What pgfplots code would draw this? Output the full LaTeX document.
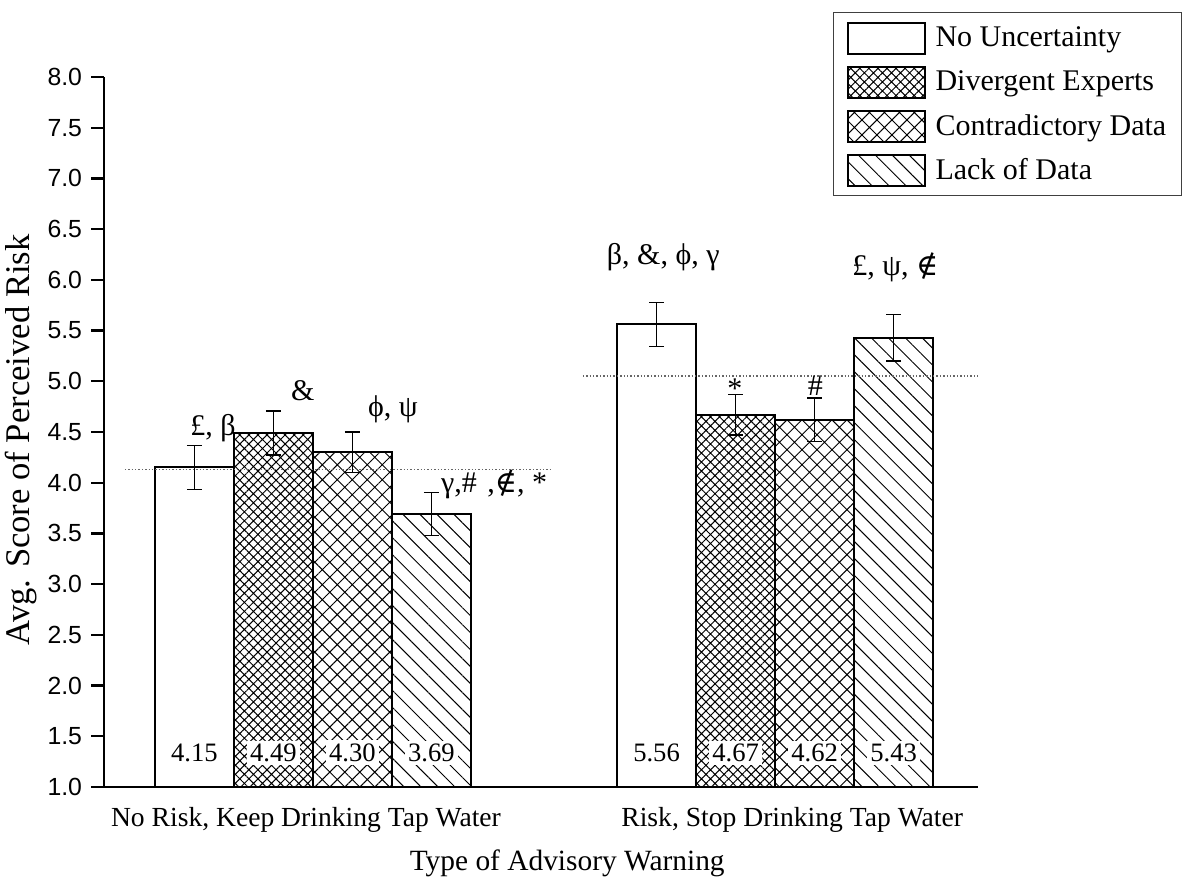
\documentclass[border=0pt]{standalone}
\usepackage{fontspec}
\setmainfont{Liberation Serif}
\newfontfamily\sansf{Liberation Sans}
\newfontfamily\symf{DejaVu Serif}
\usepackage{pgfplots}
\pgfplotsset{compat=1.18}
\usetikzlibrary{patterns.meta}

\pgfplotsset{
  mybar/.style={ybar, bar width=0.171, bar shift=0, draw=black, line width=1pt,
    error bars/y dir=both, error bars/y explicit,
    error bars/error bar style={line width=0.6pt, black},
    error bars/error mark options={rotate=90, mark size=3.75pt, line width=0.6pt, black},
    legend image code/.code={\draw[line width=1pt,##1] (0pt,-7.75pt) rectangle (38.5pt,7.75pt); \path (42.5pt,0pt);}},
}

\begin{document}
\begin{tikzpicture}
\useasboundingbox (0,0) rectangle (591.5pt,446pt);
\begin{axis}[
  at={(52pt,52.5pt)}, anchor=south west,
  scale only axis, width=437pt, height=355pt,
  xmin=-0.452, xmax=1.439, ymin=1, ymax=8,
  axis x line*=bottom, axis y line*=left,
  axis line style={line width=1.3pt},
  xtick={-0.015,1.037},
  xticklabels={{No Risk, Keep Drinking Tap Water},{Risk, Stop Drinking Tap Water}},
  xtick style={draw=none},
  xticklabel style={anchor=base, yshift=-20pt, font=\fontsize{13.8pt}{16pt}\selectfont},
  ytick={1,1.5,2,2.5,3,3.5,4,4.5,5,5.5,6,6.5,7,7.5,8},
  ytick align=outside, major tick length=6.3pt,
  ytick style={line width=1.2pt, black},
  yticklabel style={/pgf/number format/.cd, fixed, fixed zerofill, precision=1, assume math mode=true, /tikz/.cd,
    font=\sansf\fontsize{12.4pt}{14pt}\selectfont, anchor=east, inner sep=0pt, xshift=-4.5pt},
  ylabel={Avg. Score of Perceived Risk},
  ylabel style={at={(axis description cs:-0.095,0.489)}, anchor=center, rotate=0, font=\fontsize{17.3pt}{20pt}\selectfont},
  xlabel={Type of Advisory Warning},
  xlabel style={at={(axis description cs:0.53,-0.108)}, anchor=center, font=\fontsize{14.7pt}{17pt}\selectfont},
  legend style={at={(axis description cs:0.834,1.0915)}, anchor=north west,
    draw=black!75, line width=0.6pt, font=\fontsize{15pt}{17pt}\selectfont,
    inner xsep=6.5pt, inner ysep=4.5pt, row sep=5.5pt, cells={anchor=west},
    nodes={inner xsep=1pt}},
  legend cell align=left,
]
\addplot[mybar, fill=white] coordinates {(-0.2565,4.15) +- (0,0.215) (0.7435,5.56) +- (0,0.22)};
\addlegendentry{No Uncertainty}
\addplot[mybar, pattern={Hatch[angle=45,distance=3.2pt,line width=0.5pt]}] coordinates {(-0.0855,4.49) +- (0,0.217) (0.9145,4.67) +- (0,0.2)};
\addlegendentry{Divergent Experts}
\addplot[mybar, pattern={Hatch[angle=45,distance=5.3pt,line width=0.5pt]}] coordinates {(0.0855,4.30) +- (0,0.2) (1.0855,4.62) +- (0,0.215)};
\addlegendentry{Contradictory Data}
\addplot[mybar, pattern={Lines[angle=-45,distance=6pt,line width=0.5pt]}] coordinates {(0.2565,3.69) +- (0,0.21) (1.2565,5.43) +- (0,0.23)};
\addlegendentry{Lack of Data}

\addplot[forget plot, black!60, densely dotted, line width=0.7pt] coordinates {(-0.407,4.133) (0.515,4.133)};
\addplot[forget plot, black!60, densely dotted, line width=0.7pt] coordinates {(0.584,5.053) (1.439,5.053)};

\begin{scope}[every node/.style={fill=white, inner sep=1.5pt, font=\fontsize{13.3pt}{15pt}\selectfont}]
\node at (axis cs:-0.2565,1.34) {4.15};
\node at (axis cs:-0.0855,1.34) {4.49};
\node at (axis cs:0.0855,1.34) {4.30};
\node at (axis cs:0.2565,1.34) {3.69};
\node at (axis cs:0.7435,1.34) {5.56};
\node at (axis cs:0.9145,1.34) {4.67};
\node at (axis cs:1.0855,1.34) {4.62};
\node at (axis cs:1.2565,1.34) {5.43};
\end{scope}

\begin{scope}[every node/.style={inner sep=0pt, font=\fontsize{15pt}{17pt}\selectfont}]
\node at (axis cs:-0.216,4.54) {£, β};
\node at (axis cs:-0.022,4.91) {\&};
\node at (axis cs:0.173,4.72) {ϕ, ψ};
\node at (axis cs:0.392,3.98) {γ,\#\hspace{0.35em},{\symf ∉}, *};
\node at (axis cs:0.758,6.22) {β, \&, ϕ, γ};
\node at (axis cs:0.913,4.93) {*};
\node at (axis cs:1.087,4.96) {\#};
\node at (axis cs:1.26,6.12) {£, ψ, {\symf ∉}};
\end{scope}
\end{axis}
\end{tikzpicture}
\end{document}
